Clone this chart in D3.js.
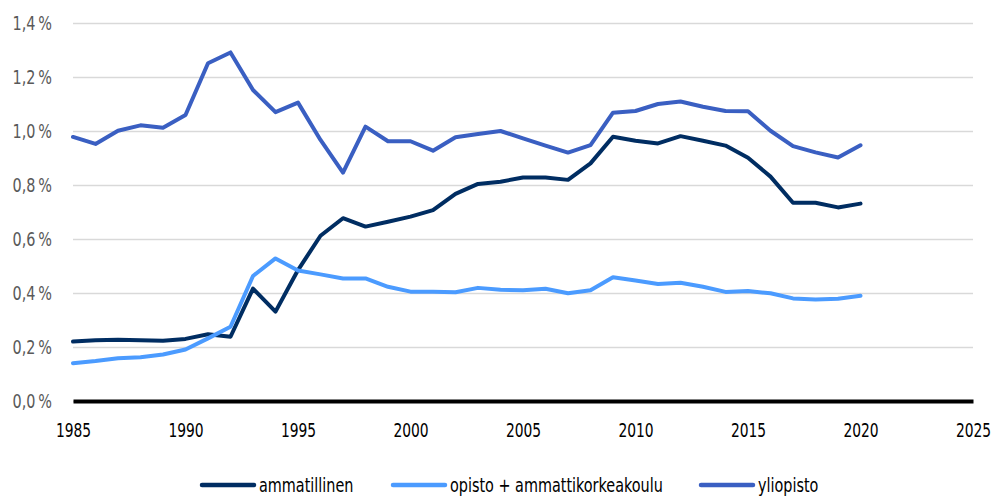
<!DOCTYPE html>
<html>
<head>
<meta charset="utf-8">
<script src="https://d3js.org/d3.v7.min.js"></script>
<style>
  body { margin: 0; background: #fff; }
  svg text { font-family: "DejaVu Sans", sans-serif; font-stretch: condensed; }
</style>
</head>
<body>
<div class="chart"></div>
<script>
// vuodet ja sarjat
var years = d3.range(1985, 2021);
var ammatillinen = [0.220, 0.225, 0.227, 0.225, 0.223, 0.230, 0.247, 0.238, 0.416, 0.331,
                    0.485, 0.612, 0.677, 0.646, 0.664, 0.683, 0.707, 0.767, 0.804, 0.812,
                    0.828, 0.828, 0.819, 0.880, 0.979, 0.964, 0.954, 0.981, 0.964, 0.946,
                    0.901, 0.831, 0.734, 0.734, 0.717, 0.731];
var opisto = [0.140, 0.148, 0.158, 0.162, 0.172, 0.191, 0.232, 0.275, 0.463, 0.528,
              0.483, 0.469, 0.454, 0.454, 0.423, 0.405, 0.405, 0.403, 0.419, 0.412,
              0.410, 0.416, 0.399, 0.410, 0.458, 0.446, 0.433, 0.438, 0.423, 0.404,
              0.407, 0.399, 0.380, 0.376, 0.379, 0.390];
var yliopisto = [0.978, 0.952, 1.001, 1.021, 1.012, 1.059, 1.251, 1.291, 1.152, 1.070,
                 1.105, 0.967, 0.846, 1.016, 0.962, 0.962, 0.927, 0.977, 0.989, 1.000,
                 0.973, 0.946, 0.920, 0.948, 1.068, 1.074, 1.100, 1.109, 1.090, 1.074,
                 1.073, 1.001, 0.944, 0.921, 0.902, 0.947];
var seriesNames = ["ammatillinen", "opisto + ammattikorkeakoulu", "yliopisto"];
var xTicks = [1985, 1990, 1995, 2000, 2005, 2010, 2015, 2020, 2025];
var yTicks = [0, 0.2, 0.4, 0.6, 0.8, 1.0, 1.2, 1.4];

var colors = ["#002d62", "#4b9bff", "#3a5fc2"];
var series = [ammatillinen, opisto, yliopisto].map(function(vals, i) {
    return { name: seriesNames[i], color: colors[i],
             values: vals.map(function(v, j) { return { year: years[j], value: v }; }) };
});

var w = 994, h = 497;
var mLeft = 73, mRight = 973, mTop = 23, mBottom = 401;

var xScale = d3.scaleLinear().domain([1985, 2025]).range([mLeft, mRight]);
var yScale = d3.scaleLinear().domain([0, 1.4]).range([mBottom, mTop]);

// kapeampi fontti: skaalataan tekstiä vaakasuunnassa
function squeeze(sel, k) {
    sel.each(function() {
        var t = d3.select(this);
        var x = +t.attr("x") || 0;
        t.attr("x", x / k).attr("transform", "scale(" + k + ",1)");
    });
}

var svg = d3.select("div.chart").append("svg")
    .attr("width", w).attr("height", h);

// vaakaviivat
var yAxis = d3.axisLeft(yScale).tickValues(yTicks)
    .tickSize(-(mRight - mLeft))
    .tickFormat(function(d) { return d3.format(".1f")(d).replace(".", ",") + "\u2009%"; });
var gy = svg.append("g").attr("transform", "translate(" + mLeft + ",0)").call(yAxis);
gy.select(".domain").remove();
gy.selectAll(".tick line").attr("stroke", "#d9d9d9").attr("stroke-width", 1.5);
gy.selectAll(".tick text").attr("x", -21).attr("fill", "#595959")
    .style("font-size", "20px")
    .call(squeeze, 0.8);

var xAxis = d3.axisBottom(xScale).tickValues(xTicks).tickSize(0).tickFormat(d3.format("d"));
var gx = svg.append("g").attr("transform", "translate(0," + mBottom + ")").call(xAxis);
gx.select(".domain").attr("stroke", "#000").attr("stroke-width", 4);
gx.selectAll(".tick text").attr("y", 22).attr("fill", "#000")
    .style("font-size", "20px")
    .call(squeeze, 0.77);

var line = d3.line()
    .x(function(d) { return xScale(d.year); })
    .y(function(d) { return yScale(d.value); });

svg.selectAll("path.series").data(series).enter().append("path")
    .attr("class", "series")
    .attr("fill", "none")
    .attr("stroke", function(d) { return d.color; })
    .attr("stroke-width", 4)
    .attr("stroke-linejoin", "round")
    .attr("stroke-linecap", "round")
    .attr("d", function(d) { return line(d.values); });

// selite
var legendX = [202, 393, 701];
var legend = svg.selectAll("g.legend").data(series).enter().append("g")
    .attr("class", "legend")
    .attr("transform", function(d, i) { return "translate(" + legendX[i] + ",485)"; });
legend.append("line")
    .attr("x1", 0).attr("x2", 52).attr("y1", 0).attr("y2", 0)
    .attr("stroke", function(d) { return d.color; })
    .attr("stroke-width", 4.5).attr("stroke-linecap", "round");
legend.append("text")
    .attr("x", 57).attr("y", 0).attr("dy", "0.35em")
    .style("font-size", "20px").attr("fill", "#000")
    .text(function(d) { return d.name; })
    .call(squeeze, 0.8);
</script>
</body>
</html>
